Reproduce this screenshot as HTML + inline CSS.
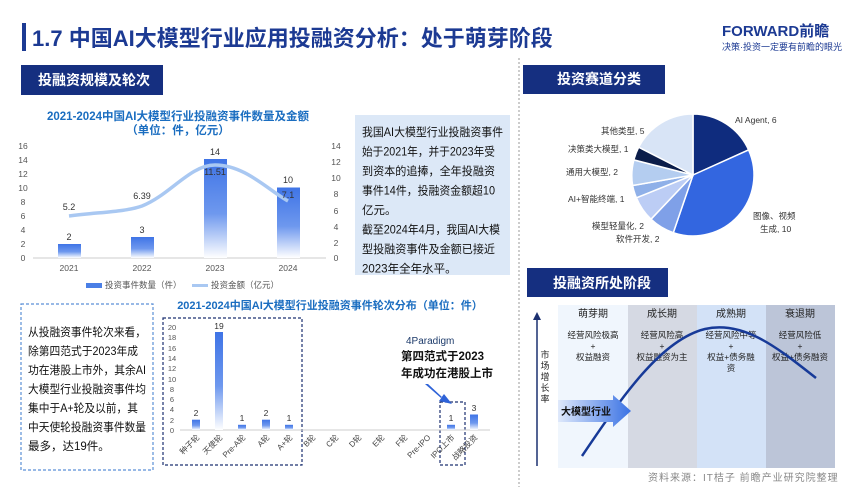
<!DOCTYPE html>
<html><head><meta charset="utf-8"><style>
html,body{margin:0;padding:0;background:#fff;}
svg{display:block;font-family:"Liberation Sans","Noto Sans CJK SC",sans-serif;}
</style></head><body>
<svg width="865" height="487" viewBox="0 0 865 487" xmlns="http://www.w3.org/2000/svg">
<defs>
<linearGradient id="bg" x1="0" y1="0" x2="0" y2="1"><stop offset="0" stop-color="#3f74e6"/><stop offset="0.55" stop-color="#6e98ee"/><stop offset="1" stop-color="#ffffff"/></linearGradient>
<linearGradient id="ag" x1="0" y1="0" x2="1" y2="0"><stop offset="0" stop-color="#dfe9fb"/><stop offset="1" stop-color="#3a72e4"/></linearGradient>
</defs>
<!-- header -->
<rect x="22" y="23" width="4" height="28" fill="#1c3a93"/>
<text x="32" y="46" font-size="22" font-weight="bold" fill="#1c3a93">1.7 中国AI大模型行业应用投融资分析：处于萌芽阶段</text>
<text x="722" y="36" font-size="15" font-weight="bold" fill="#1c3a93">FORWARD前瞻</text>
<text x="722" y="50" font-size="9" fill="#1c3a93">决策·投资一定要有前瞻的眼光</text>
<line x1="519" y1="58" x2="519" y2="487" stroke="#999" stroke-dasharray="2,2"/>
<!-- section headers -->
<rect x="21" y="65" width="142" height="30" fill="#152f80"/>
<text x="38" y="85" font-size="14" font-weight="bold" fill="#fff">投融资规模及轮次</text>
<rect x="523" y="65" width="142" height="29" fill="#152f80"/>
<text x="557" y="84" font-size="14" font-weight="bold" fill="#fff">投资赛道分类</text>
<rect x="527" y="268" width="141" height="29" fill="#152f80"/>
<text x="553" y="288" font-size="14" font-weight="bold" fill="#fff">投融资所处阶段</text>
<!-- chart1 -->
<text x="178" y="120" font-size="11.5" font-weight="bold" fill="#1a6dc0" text-anchor="middle">2021-2024中国AI大模型行业投融资事件数量及金额</text>
<text x="178" y="134" font-size="11.5" font-weight="bold" fill="#1a6dc0" text-anchor="middle">（单位：件，亿元）</text>
<g font-size="8.5" fill="#555">
<text x="23" y="149" text-anchor="middle">16</text><text x="23" y="163" text-anchor="middle">14</text><text x="23" y="177" text-anchor="middle">12</text><text x="23" y="191" text-anchor="middle">10</text><text x="23" y="205" text-anchor="middle">8</text><text x="23" y="219" text-anchor="middle">6</text><text x="23" y="233" text-anchor="middle">4</text><text x="23" y="247" text-anchor="middle">2</text><text x="23" y="261" text-anchor="middle">0</text>
<text x="336" y="149" text-anchor="middle">14</text><text x="336" y="165" text-anchor="middle">12</text><text x="336" y="181" text-anchor="middle">10</text><text x="336" y="197" text-anchor="middle">8</text><text x="336" y="214" text-anchor="middle">6</text><text x="336" y="230" text-anchor="middle">4</text><text x="336" y="246" text-anchor="middle">2</text><text x="336" y="261" text-anchor="middle">0</text>
</g>
<line x1="33" y1="258" x2="326" y2="258" stroke="#ccc"/>
<rect x="58" y="244" width="23" height="14" fill="url(#bg)"/>
<rect x="131" y="237" width="23" height="21" fill="url(#bg)"/>
<rect x="204" y="159" width="23" height="99" fill="url(#bg)"/>
<rect x="277" y="187.5" width="23" height="70.5" fill="url(#bg)"/>
<path d="M69 216 C100 212 125 212 142 206 C170 195 190 165 215 165 C245 165 268 190 288 201" fill="none" stroke="#a9c8f2" stroke-width="3.5"/>
<g font-size="9" fill="#333" text-anchor="middle">
<text x="69" y="240">2</text><text x="142" y="233">3</text><text x="215" y="155">14</text><text x="288" y="183">10</text>
<text x="69" y="210">5.2</text><text x="142" y="199">6.39</text><text x="215" y="175">11.51</text><text x="288" y="198">7.1</text>
</g>
<g font-size="8.5" fill="#555" text-anchor="middle">
<text x="69" y="271">2021</text><text x="142" y="271">2022</text><text x="215" y="271">2023</text><text x="288" y="271">2024</text>
</g>
<rect x="86" y="283" width="16" height="5" fill="#4a7fe6"/>
<text x="105" y="288" font-size="8.5" fill="#555">投资事件数量（件）</text>
<line x1="192" y1="285.5" x2="208" y2="285.5" stroke="#a9c8f2" stroke-width="3"/>
<text x="211" y="288" font-size="8.5" fill="#555">投资金额（亿元）</text>
<!-- text box -->
<rect x="355" y="115" width="155" height="160" fill="#dce8f7"/>
<g font-size="11.5" fill="#111">
<text x="362" y="136" textLength="141" lengthAdjust="spacingAndGlyphs">我国AI大模型行业投融资事件</text>
<text x="362" y="155.5" textLength="133" lengthAdjust="spacingAndGlyphs">始于2021年，并于2023年受</text>
<text x="362" y="175" textLength="133" lengthAdjust="spacingAndGlyphs">到资本的追捧，全年投融资</text>
<text x="362" y="194.5" textLength="133" lengthAdjust="spacingAndGlyphs">事件14件，投融资金额超10</text>
<text x="362" y="214">亿元。</text>
<text x="362" y="233.5" textLength="138" lengthAdjust="spacingAndGlyphs">截至2024年4月，我国AI大模</text>
<text x="362" y="253" textLength="133" lengthAdjust="spacingAndGlyphs">型投融资事件及金额已接近</text>
<text x="362" y="272.5">2023年全年水平。</text>
</g>
<!-- bottom left box -->
<rect x="21" y="304" width="132" height="166" fill="#fff" stroke="#5b8fd6" stroke-dasharray="3,2" stroke-width="1.2"/>
<g font-size="11.5" fill="#111">
<text x="28" y="336" textLength="118" lengthAdjust="spacingAndGlyphs">从投融资事件轮次来看，</text>
<text x="28" y="355" textLength="110" lengthAdjust="spacingAndGlyphs">除第四范式于2023年成</text>
<text x="28" y="374" textLength="118" lengthAdjust="spacingAndGlyphs">功在港股上市外，其余AI</text>
<text x="28" y="393" textLength="118" lengthAdjust="spacingAndGlyphs">大模型行业投融资事件均</text>
<text x="28" y="412" textLength="110" lengthAdjust="spacingAndGlyphs">集中于A+轮及以前，其</text>
<text x="28" y="431" textLength="118" lengthAdjust="spacingAndGlyphs">中天使轮投融资事件数量</text>
<text x="28" y="450">最多，达19件。</text>
</g>
<!-- chart2 -->
<text x="330" y="309" font-size="11" font-weight="bold" fill="#1a6dc0" text-anchor="middle">2021-2024中国AI大模型行业投融资事件轮次分布（单位：件）</text>
<rect x="163" y="318" width="139" height="147" fill="none" stroke="#1c3070" stroke-dasharray="3,2" stroke-width="1.2"/>
<rect x="440" y="402" width="25" height="63" fill="none" stroke="#1c3070" stroke-dasharray="3,2" stroke-width="1.2"/>
<g font-size="7.5" fill="#555" text-anchor="middle">
<text x="172" y="330">20</text><text x="172" y="340">18</text><text x="172" y="351">16</text><text x="172" y="361">14</text><text x="172" y="371">12</text><text x="172" y="382">10</text><text x="172" y="392">8</text><text x="172" y="402">6</text><text x="172" y="412">4</text><text x="172" y="423">2</text><text x="172" y="433">0</text>
</g>
<line x1="180" y1="430" x2="490" y2="430" stroke="#ccc"/>
<g fill="url(#bg)">
<rect x="192" y="419.7" width="8" height="10.3"/>
<rect x="215" y="332" width="8" height="98"/>
<rect x="238" y="424.8" width="8" height="5.2"/>
<rect x="262" y="419.7" width="8" height="10.3"/>
<rect x="285" y="424.8" width="8" height="5.2"/>
<rect x="447" y="424.8" width="8" height="5.2"/>
<rect x="470" y="414.5" width="8" height="15.5"/>
</g>
<g font-size="8.5" fill="#333" text-anchor="middle">
<text x="196" y="416">2</text><text x="219" y="329">19</text><text x="242" y="421">1</text><text x="266" y="416">2</text><text x="289" y="421">1</text><text x="451" y="421">1</text><text x="474" y="411">3</text>
</g>
<g font-size="8" fill="#444" text-anchor="end">
<text transform="translate(200,438) rotate(-45)">种子轮</text>
<text transform="translate(223,438) rotate(-45)">天使轮</text>
<text transform="translate(246,438) rotate(-45)">Pre-A轮</text>
<text transform="translate(270,438) rotate(-45)">A轮</text>
<text transform="translate(293,438) rotate(-45)">A+轮</text>
<text transform="translate(316,438) rotate(-45)">B轮</text>
<text transform="translate(339,438) rotate(-45)">C轮</text>
<text transform="translate(362,438) rotate(-45)">D轮</text>
<text transform="translate(385,438) rotate(-45)">E轮</text>
<text transform="translate(408,438) rotate(-45)">F轮</text>
<text transform="translate(431,438) rotate(-45)">Pre-IPO</text>
<text transform="translate(455,438) rotate(-45)">IPO上市</text>
<text transform="translate(478,438) rotate(-45)">战略投资</text>
</g>
<text x="406" y="344" font-size="10" fill="#1c3a6a">4Paradigm</text>
<text x="401" y="360" font-size="11.5" font-weight="bold" fill="#111">第四范式于2023</text>
<text x="401" y="377" font-size="11.5" font-weight="bold" fill="#111">年成功在港股上市</text>
<path d="M425 384 L441 398 L444 394 L452 404 L439 401 L442 397 L428 384 Z" fill="#2f63d8"/>
<!-- pie -->
<g stroke="#fff" stroke-width="1.5">
<path d="M693 175 L693 114 A61 61 0 0 1 748.6 149.9 Z" fill="#0f2c7e"/>
<path d="M693 175 L748.6 149.9 A61 61 0 0 1 673.3 232.7 Z" fill="#3366e0"/>
<path d="M693 175 L673.3 232.7 A61 61 0 0 1 651.0 219.2 Z" fill="#7fa0e8"/>
<path d="M693 175 L651.0 219.2 A61 61 0 0 1 636.4 197.8 Z" fill="#bccdf5"/>
<path d="M693 175 L636.4 197.8 A61 61 0 0 1 632.6 185.5 Z" fill="#8fb0e8"/>
<path d="M693 175 L632.6 185.5 A61 61 0 0 1 633.9 159.9 Z" fill="#b4cdf0"/>
<path d="M693 175 L633.9 159.9 A61 61 0 0 1 638.7 147.2 Z" fill="#0b1d4a"/>
<path d="M693 175 L638.7 147.2 A61 61 0 0 1 693 114 Z" fill="#d8e4f6"/>
</g>
<g font-size="8.5" fill="#333">
<text x="735" y="123">AI Agent, 6</text>
<text x="753" y="219">图像、视频</text>
<text x="760" y="232">生成, 10</text>
<text x="616" y="242">软件开发, 2</text>
<text x="592" y="229">模型轻量化, 2</text>
<text x="568" y="202">AI+智能终端, 1</text>
<text x="566" y="175">通用大模型, 2</text>
<text x="568" y="152">决策类大模型, 1</text>
<text x="601" y="134">其他类型, 5</text>
</g>
<!-- stages -->
<rect x="558" y="305" width="70" height="163" fill="#f0f6fd"/>
<rect x="628" y="305" width="69" height="163" fill="#d5d9e3"/>
<rect x="697" y="305" width="69" height="163" fill="#d3e2f7"/>
<rect x="766" y="305" width="69" height="163" fill="#bcc5d8"/>
<g font-size="10" fill="#222" text-anchor="middle">
<text x="593" y="317">萌芽期</text><text x="662" y="317">成长期</text><text x="731" y="317">成熟期</text><text x="800" y="317">衰退期</text>
</g>
<g font-size="8.5" fill="#222" text-anchor="middle">
<text x="593" y="338">经营风险极高</text><text x="593" y="349">+</text><text x="593" y="360">权益融资</text>
<text x="662" y="338">经营风险高</text><text x="662" y="349">+</text><text x="662" y="360">权益融资为主</text>
<text x="731" y="338">经营风险中等</text><text x="731" y="349">+</text><text x="731" y="360">权益+债务融</text><text x="731" y="371">资</text>
<text x="800" y="338">经营风险低</text><text x="800" y="349">+</text><text x="800" y="360">权益+债务融资</text>
</g>
<path d="M582 456 C620 400 660 340 705 329 C745 320 780 350 816 378" fill="none" stroke="#173a98" stroke-width="2.5"/>
<line x1="537" y1="466" x2="537" y2="318" stroke="#1c3070" stroke-width="1.5"/>
<path d="M533 320 L537 312 L541 320 Z" fill="#1c3070"/>
<g font-size="9" fill="#222" text-anchor="middle">
<text x="545" y="358">市</text><text x="545" y="369">场</text><text x="545" y="380">增</text><text x="545" y="391">长</text><text x="545" y="402">率</text>
</g>
<path d="M558 400 L613 400 L613 395 L631 411 L613 427 L613 422 L558 422 Z" fill="url(#ag)"/>
<text x="561" y="415" font-size="10" font-weight="bold" fill="#111">大模型行业</text>
<text x="648" y="481" font-size="10" fill="#888" letter-spacing="1">资料来源：IT桔子 前瞻产业研究院整理</text>
</svg>
</body></html>
